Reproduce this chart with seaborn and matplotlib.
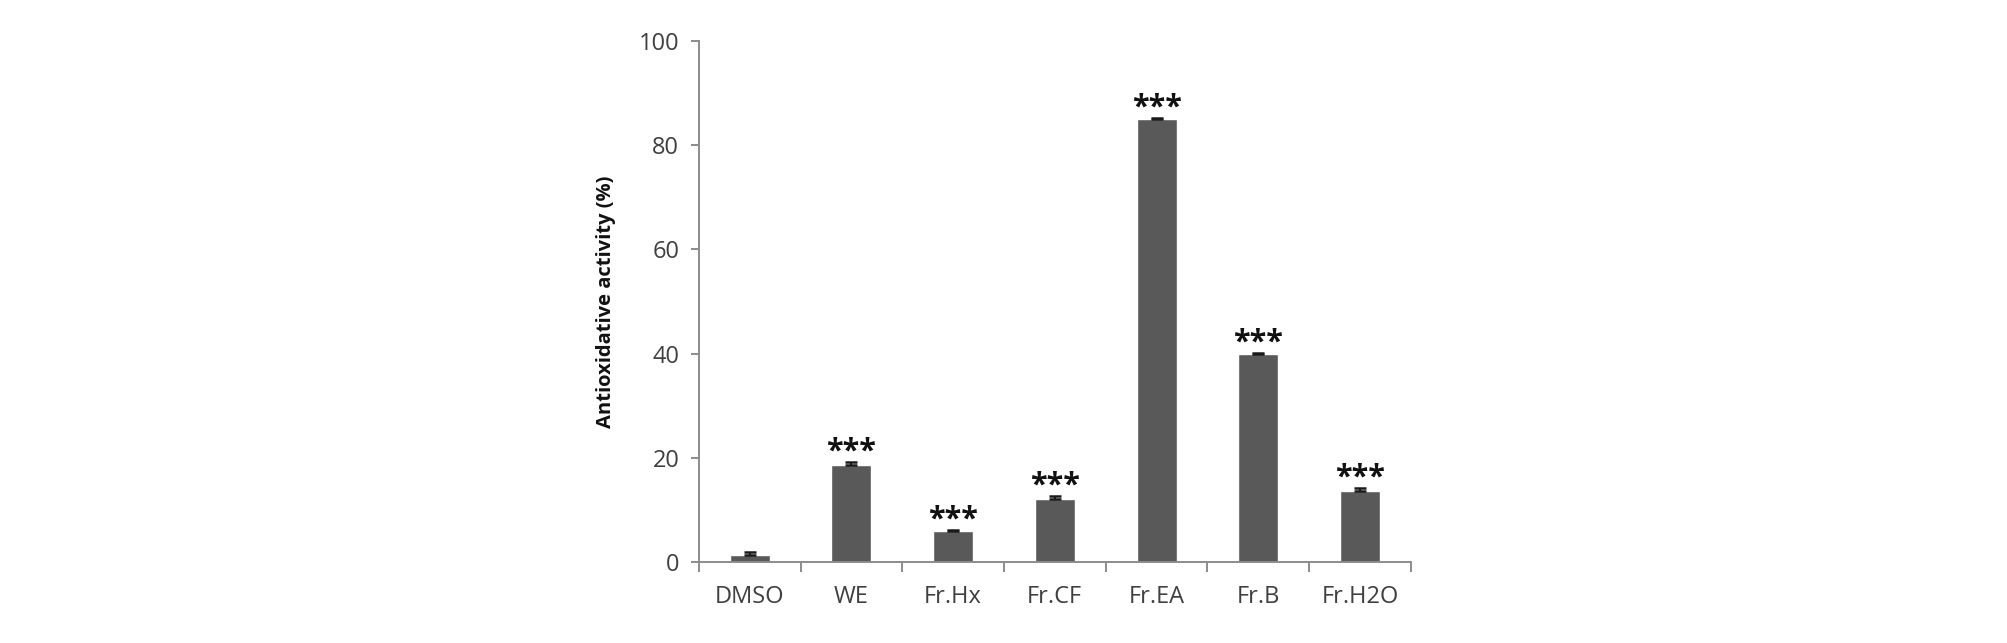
import matplotlib
matplotlib.use("Agg")
import matplotlib.pyplot as plt
import seaborn as sns
import pandas as pd

samples = ["DMSO", "WE", "Fr.Hx", "Fr.CF", "Fr.EA", "Fr.B", "Fr.H2O"]
activity = [1.4, 18.7, 6.0, 12.2, 85.0, 40.0, 13.7]
sd = [0.6, 0.6, 0.2, 0.5, 0.2, 0.2, 0.6]
marks = ["", "***", "***", "***", "***", "***", "***"]

df = pd.DataFrame({"sample": samples, "activity": activity})

sns.set_style("white")
plt.rcParams["font.family"] = ["Open Sans", "DejaVu Sans"]

fig = plt.figure(figsize=(20.08, 6.43), dpi=100)
ax = fig.add_axes([0.348, 0.1255, 0.3546, 0.8112])

sns.barplot(data=df, x="sample", y="activity", color="#595959", saturation=1,
            width=0.393, errorbar=None, ax=ax)
ax.errorbar(samples, activity, yerr=[[0] * len(sd), sd], fmt="none",
            ecolor="#1a1a1a", elinewidth=1.5, capsize=4, capthick=1.8)

# significance stars above each bar
for i, (v, e, m) in enumerate(zip(activity, sd, marks)):
    if m:
        ax.annotate(m, (i, v + e), xytext=(0, 7.5), textcoords="offset points",
                    ha="center", va="center", fontsize=22, fontweight="bold",
                    color="#111111")

ax.set_ylim(0, 100)
ax.set_xlim(-0.5, len(samples) - 0.5)
ax.set_yticks([0, 20, 40, 60, 80, 100])
ax.set_xlabel("")
ax.set_ylabel("Antioxidative activity (%)", fontsize=14.5, fontweight="bold",
              color="#111111", labelpad=16)

for side in ["top", "right"]:
    ax.spines[side].set_visible(False)
for side in ["left", "bottom"]:
    ax.spines[side].set_color("#8c8c8c")
    ax.spines[side].set_linewidth(1.4)

ax.tick_params(axis="y", direction="out", length=6, width=1.4, color="#8c8c8c",
               labelsize=17, labelcolor="#404040", left=True, pad=8)
ax.tick_params(axis="x", which="major", length=0, labelsize=17,
               labelcolor="#404040", pad=16)
ax.set_xticks([i - 0.5 for i in range(len(samples) + 1)], minor=True)
ax.tick_params(axis="x", which="minor", direction="out", length=7, width=1.4,
               color="#8c8c8c", bottom=True)

plt.savefig("out.png", dpi=100)
